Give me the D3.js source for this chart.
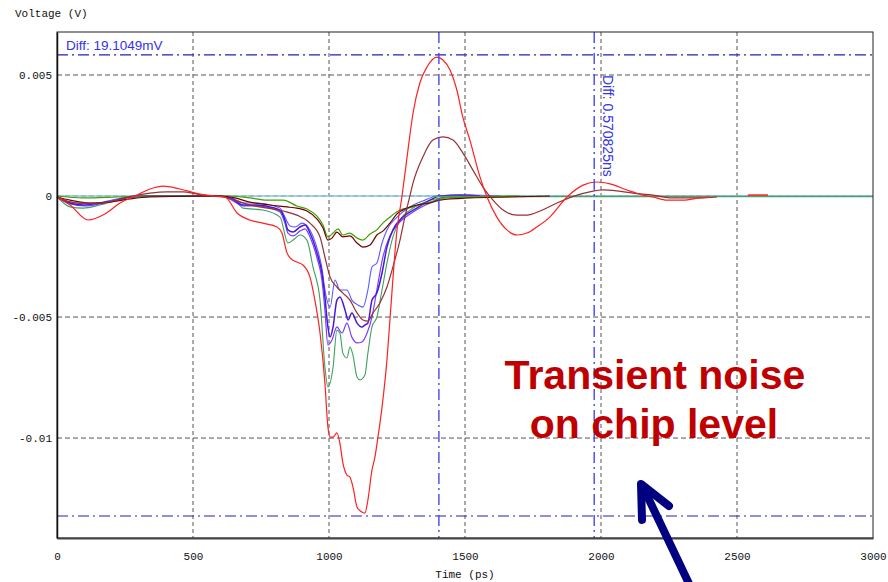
<!DOCTYPE html>
<html>
<head>
<meta charset="utf-8">
<script src="https://cdn.jsdelivr.net/npm/d3@7"></script>
<style>
  body { margin: 0; background: #fff; }
  svg { display: block; }
</style>
</head>
<body>
<div id="chart"></div>
<script>
// ---- data (time in ps, voltage in mV) ----
const xTicks = [0, 500, 1000, 1500, 2000, 2500, 3000];
const yTicks = [0.005, 0, -0.005, -0.01];
const yTickLabels = ["0.005", "0", "-0.005", "-0.01"];

const redWave = [[0,-0.04],[48,-0.37],[114,-0.99],[176,-0.74],[232,-0.29],[287,0],[342,0.29],[390,0.41],[452,0.29],[526,0.08],[581,0],[618,-0.04],[662,-0.70],[709,-0.99],[757,-1.12],[809,-1.28],[827,-1.53],[846,-2.36],[857,-2.56],[882,-2.73],[904,-2.85],[930,-3.35],[948,-4.30],[967,-5.66],[985,-7.73],[996,-9.54],[1004,-9.96],[1015,-9.96],[1029,-9.79],[1040,-10.21],[1051,-11.03],[1066,-11.53],[1077,-11.61],[1088,-12.02],[1103,-12.85],[1121,-13.06],[1132,-13.10],[1143,-12.56],[1158,-11.32],[1169,-10.78],[1180,-9.96],[1195,-8.72],[1213,-6.78],[1224,-5.12],[1250,-1.40],[1268,-0.04],[1287,1.61],[1309,3.43],[1334,4.67],[1360,5.33],[1397,5.74],[1419,5.62],[1445,5.21],[1470,4.38],[1492,3.26],[1518,2.31],[1555,0.79],[1581,-0.04],[1617,-0.87],[1654,-1.40],[1691,-1.61],[1728,-1.53],[1764,-1.28],[1812,-0.87],[1875,-0.04],[1934,0.45],[1985,0.58],[2033,0.50],[2095,0.25],[2154,0.04],[2191,-0.04],[2242,-0.17],[2301,-0.17],[2364,-0.08],[2400,-0.04]];
const redTail = [[2540,0.04],[2614,0.04]];

const brownRing = [[0,-0.04],[74,-0.29],[158,-0.29],[221,-0.17],[279,0],[342,0.12],[404,0.17],[463,0.17],[515,0.08],[562,0],[610,-0.04],[709,-0.37],[831,-0.62],[882,-0.79],[930,-1.12],[967,-1.69],[985,-2.52],[1004,-3.35],[1029,-3.76],[1051,-4.01],[1077,-4.30],[1103,-4.83],[1125,-5.12],[1143,-5.17],[1162,-4.83],[1187,-4.42],[1213,-3.76],[1235,-2.93],[1261,-1.82],[1279,-0.87],[1298,0.04],[1309,0.54],[1345,1.61],[1382,2.31],[1419,2.44],[1456,2.31],[1492,1.78],[1529,1.07],[1566,0.37],[1603,-0.17],[1640,-0.58],[1691,-0.79],[1728,-0.79],[1776,-0.62],[1838,-0.29],[1912,0.04],[1959,0.17],[2007,0.25],[2059,0.21],[2117,0.12],[2191,0.04],[2264,-0.08],[2364,-0.08],[2426,-0.04]];

const maroonWave = [[0,-0.04],[48,-0.17],[121,-0.29],[195,-0.25],[268,-0.12],[342,-0.04],[599,0],[654,-0.08],[709,-0.25],[783,-0.37],[846,-0.45],[882,-0.50],[919,-0.62],[956,-0.95],[978,-1.32],[996,-1.82],[1011,-1.74],[1029,-1.49],[1051,-1.69],[1077,-1.65],[1103,-1.94],[1125,-2.11],[1151,-2.02],[1176,-1.61],[1198,-1.45],[1224,-1.12],[1250,-0.74],[1287,-0.50],[1323,-0.37],[1371,-0.29],[1408,-0.17],[1518,-0.08],[1665,-0.04],[1812,0]];

const oliveWave = [[0,0],[96,-0.08],[221,-0.04],[342,0],[625,0],[709,-0.08],[772,-0.17],[831,-0.17],[882,-0.41],[919,-0.54],[956,-0.83],[978,-1.20],[996,-1.69],[1015,-1.53],[1033,-1.36],[1051,-1.61],[1077,-1.53],[1103,-1.74],[1125,-1.82],[1151,-1.57],[1176,-1.40],[1198,-1.12],[1224,-0.87],[1261,-0.58],[1309,-0.45],[1371,-0.25],[1434,-0.08],[1518,-0.04],[1702,0]];

const greenWave = [[0,-0.04],[48,-0.45],[96,-0.50],[158,-0.37],[221,-0.17],[268,-0.04],[379,0],[599,0],[654,-0.17],[684,-0.50],[757,-0.58],[820,-0.87],[849,-1.94],[868,-1.82],[893,-1.61],[919,-1.82],[941,-2.93],[967,-4.30],[985,-7.07],[996,-7.89],[1015,-7.07],[1029,-5.54],[1040,-5.66],[1051,-6.49],[1066,-6.69],[1077,-6.24],[1088,-6.57],[1103,-7.48],[1114,-7.60],[1132,-7.40],[1143,-6.49],[1158,-5.41],[1176,-5.00],[1195,-3.88],[1213,-2.77],[1235,-1.69],[1261,-0.99],[1298,-0.58],[1345,-0.29],[1408,-0.08],[1518,0]];

const purpleWave = [[0,-0.04],[48,-0.29],[96,-0.37],[158,-0.29],[221,-0.17],[268,-0.04],[379,0],[599,0],[643,-0.12],[684,-0.37],[735,-0.37],[783,-0.45],[820,-0.58],[838,-0.99],[849,-1.40],[868,-1.49],[893,-1.28],[912,-1.20],[930,-1.53],[956,-2.36],[974,-3.18],[985,-4.17],[996,-5.41],[1004,-5.83],[1015,-5.41],[1029,-4.30],[1040,-4.17],[1059,-4.71],[1070,-5.12],[1084,-4.83],[1103,-5.25],[1121,-5.41],[1132,-5.33],[1143,-5.25],[1158,-4.30],[1176,-4.01],[1195,-3.18],[1213,-2.11],[1235,-1.40],[1272,-0.87],[1323,-0.50],[1371,-0.17],[1408,0],[1481,0.04],[1555,0]];

const blueWave = [[0,-0.04],[48,-0.25],[121,-0.33],[221,-0.12],[287,0],[599,0],[643,-0.08],[684,-0.29],[735,-0.29],[783,-0.37],[820,-0.50],[838,-0.87],[857,-1.24],[875,-1.28],[901,-1.12],[930,-1.40],[956,-2.15],[974,-2.98],[985,-3.88],[1004,-4.59],[1022,-3.47],[1040,-3.88],[1066,-3.88],[1084,-4.30],[1106,-4.50],[1125,-4.59],[1143,-3.88],[1158,-2.93],[1176,-2.77],[1195,-1.94],[1213,-1.40],[1250,-0.87],[1298,-0.45],[1353,-0.17],[1397,0],[1518,0.04],[1628,0]];

const violetWave = [[0,-0.04],[48,-0.33],[103,-0.41],[158,-0.33],[221,-0.17],[276,-0.04],[379,0],[599,0],[643,-0.17],[684,-0.41],[735,-0.41],[783,-0.50],[820,-0.66],[838,-1.12],[849,-1.53],[868,-1.65],[893,-1.45],[912,-1.36],[930,-1.69],[956,-2.56],[974,-3.47],[985,-4.71],[996,-6.16],[1011,-5.95],[1029,-5.41],[1048,-5.66],[1066,-5.25],[1084,-5.83],[1103,-6.07],[1121,-6.03],[1140,-5.66],[1158,-5.00],[1176,-3.88],[1198,-2.52],[1224,-1.65],[1261,-1.07],[1309,-0.66],[1371,-0.29],[1426,-0.04],[1518,0]];

const cyanFlat = [[0,0],[3000,0]];
const tealFlat = [[1380,-0.02],[3000,-0.02]];

const cursorTimes = [1404, 1975];        // ps
const cursorLevels = [0.00583, -0.01322]; // V

const series = [
  { name: "cyan",   data: cyanFlat,    color: "#8cc8dc", w: 1.5 },
  { name: "green",  data: greenWave,   color: "#3fa060", w: 1.1 },
  { name: "violet", data: violetWave,  color: "#7a3cff", w: 1.2 },
  { name: "blue",   data: blueWave,    color: "#5a5aff", w: 1.1 },
  { name: "purple", data: purpleWave,  color: "#4a18d8", w: 1.5 },
  { name: "teal",   data: tealFlat,    color: "#4aa070", w: 1.5 },
  { name: "olive",  data: oliveWave,   color: "#40a000", w: 1.2 },
  { name: "maroon", data: maroonWave,  color: "#700000", w: 1.2 },
  { name: "brown",  data: brownRing,   color: "#963232", w: 1.2 },
  { name: "red",    data: redWave,     color: "#ff2020", w: 1.2 },
  { name: "redTail",data: redTail,     color: "#ff2020", w: 1.5 }
];

// ---- layout ----
const W = 888, H = 582;
const margin = {top: 32, right: 15, bottom: 44, left: 57};
const width = W - margin.left - margin.right, height = H - margin.top - margin.bottom;
const mono = "'Liberation Mono', 'DejaVu Sans Mono', monospace";
const sans = "'Liberation Sans', Arial, sans-serif";

const svg = d3.select("#chart").append("svg")
  .attr("width", W).attr("height", H)
  .style("font-family", mono);

const g = svg.append("g").attr("transform", `translate(${margin.left},${margin.top})`);

const x = d3.scaleLinear().domain([0, 3000]).range([0, width]);
const y = d3.scaleLinear().domain([-0.01413, 0.006777]).range([height, 0]);

// grid
g.selectAll(".vgrid").data(xTicks.slice(1, -1)).enter().append("line")
  .attr("x1", d => x(d)).attr("x2", d => x(d))
  .attr("y1", 0).attr("y2", height)
  .attr("stroke", "#555").attr("stroke-dasharray", "4,3");
g.selectAll(".hgrid").data(yTicks).enter().append("line")
  .attr("x1", 0).attr("x2", width)
  .attr("y1", d => y(d)).attr("y2", d => y(d))
  .attr("stroke", "#555").attr("stroke-dasharray", "5,3");

// curves
const line = d3.line()
  .x(d => x(d[0]))
  .y(d => y(d[1] / 1000))
  .curve(d3.curveMonotoneX);

g.selectAll(".trace").data(series).enter().append("path")
  .attr("class", "trace")
  .attr("d", d => line(d.data))
  .attr("fill", "none")
  .attr("stroke", d => d.color)
  .attr("stroke-width", d => d.w);

// cursors
g.selectAll(".hcur").data(cursorLevels).enter().append("line")
  .attr("x1", 0).attr("x2", width)
  .attr("y1", d => y(d)).attr("y2", d => y(d))
  .attr("stroke", "#2020b8").attr("stroke-width", 1.2)
  .attr("stroke-dasharray", "11,4,2,4");
g.selectAll(".vcur").data(cursorTimes).enter().append("line")
  .attr("x1", d => x(d)).attr("x2", d => x(d))
  .attr("y1", 0).attr("y2", height)
  .attr("stroke", "#4646ee").attr("stroke-width", 1.4)
  .attr("stroke-dasharray", "11,4,2,4");

g.append("text")
  .attr("x", 9).attr("y", 18)
  .attr("font-family", sans)
  .attr("font-size", 13.5).attr("fill", "#3333ee")
  .text("Diff: 19.1049mV");

g.append("text")
  .attr("transform", `translate(${x(cursorTimes[1]) + 9},${43}) rotate(90)`)
  .attr("font-family", sans)
  .attr("font-size", 14).attr("fill", "#3333ee")
  .text("Diff: 0.570825ns");

// frame
g.append("rect").attr("width", width).attr("height", height)
  .attr("fill", "none").attr("stroke", "#222").attr("stroke-width", 1);

// axes
const xAxis = d3.axisBottom(x).tickValues(xTicks).tickSize(0).tickPadding(14)
  .tickFormat(d3.format("d"));
const yAxis = d3.axisLeft(y).tickValues(yTicks).tickSize(0).tickPadding(5)
  .tickFormat((d, i) => yTickLabels[i]);

g.append("g").attr("transform", `translate(0,${height})`).call(xAxis)
  .attr("font-family", mono).attr("font-size", 11)
  .call(s => s.select(".domain").attr("stroke", "#444").attr("stroke-width", 2))
  .selectAll("text").attr("fill", "#111");
g.append("g").call(yAxis)
  .attr("font-family", mono).attr("font-size", 11)
  .call(s => s.select(".domain").attr("stroke", "#111").attr("stroke-width", 1.5))
  .selectAll("text").attr("fill", "#111");

svg.append("text").attr("x", 15).attr("y", 17)
  .attr("font-size", 11).attr("fill", "#111").text("Voltage (V)");
svg.append("text").attr("x", margin.left + x(1500)).attr("y", 578)
  .attr("text-anchor", "middle").attr("font-size", 11).attr("fill", "#111").text("Time (ps)");

// annotation
const note = svg.append("text")
  .attr("font-family", sans)
  .attr("font-weight", "bold").attr("font-size", 41)
  .attr("fill", "#c00000").attr("text-anchor", "middle");
note.append("tspan").attr("x", 655).attr("y", 389).text("Transient noise");
note.append("tspan").attr("x", 654).attr("y", 438).text("on chip level");

const arrow = svg.append("g").attr("stroke", "#000080").attr("stroke-width", 8)
  .attr("stroke-linecap", "round").attr("stroke-linejoin", "round").attr("fill", "none");
arrow.append("line").attr("x1", 692).attr("y1", 590).attr("x2", 643).attr("y2", 487);
arrow.append("polyline").attr("points", "642,520 641,484 669,506");
</script>
</body>
</html>
